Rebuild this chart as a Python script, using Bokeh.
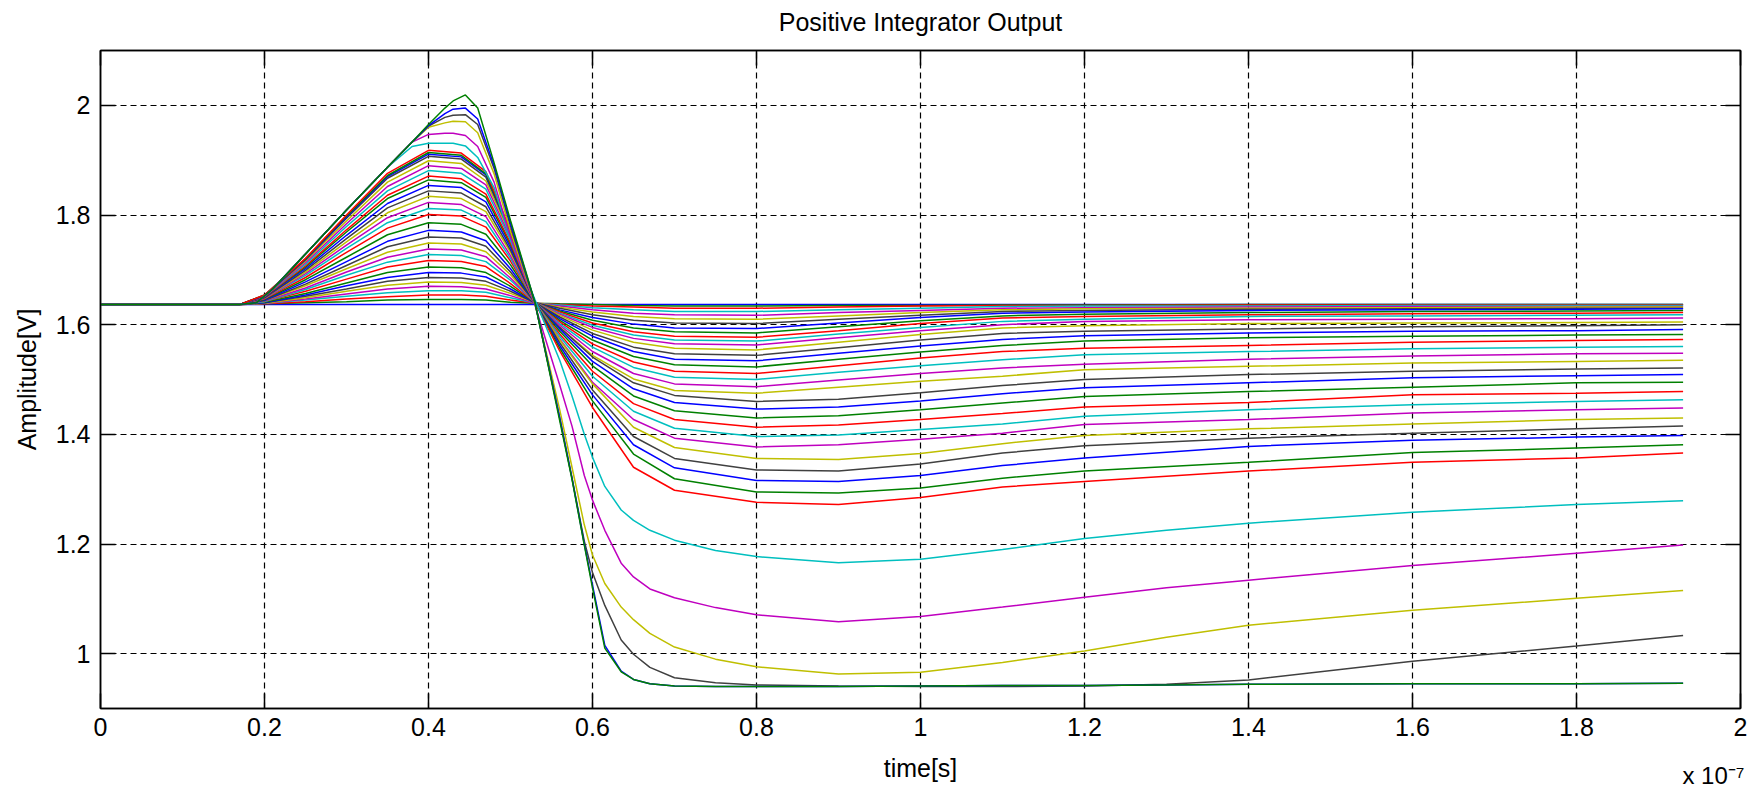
from bokeh.plotting import figure
from bokeh.models import Range1d, FixedTicker, CustomJSTickFormatter, LinearAxis, Title
from bokeh.embed import file_html
from bokeh.resources import INLINE

# time axis in units of 1e-7 s
t_main = [0.00, 0.17, 0.20, 0.25, 0.30, 0.35, 0.40, 0.44, 0.47, 0.50, 0.53, 0.56,
          0.60, 0.65, 0.70, 0.80, 0.90, 1.00, 1.10, 1.20, 1.40, 1.60, 1.80, 1.93]
t_steep = [0.00, 0.17, 0.19, 0.21, 0.25, 0.30, 0.35, 0.38, 0.40, 0.42, 0.43, 0.445,
           0.46, 0.48, 0.50, 0.53, 0.56, 0.575, 0.59, 0.60, 0.615, 0.635, 0.65, 0.67,
           0.70, 0.75, 0.80, 0.90, 1.00, 1.10, 1.20, 1.30, 1.40, 1.60, 1.80, 1.93]

v00 = [1.637] * 24
v01 = [1.637, 1.637, 1.638, 1.640, 1.642, 1.645, 1.646, 1.646, 1.645, 1.641, 1.639, 1.638, 1.637, 1.635, 1.634, 1.634, 1.635, 1.635, 1.636, 1.636, 1.637, 1.637, 1.637, 1.637]
v02 = [1.637, 1.637, 1.638, 1.642, 1.647, 1.651, 1.654, 1.654, 1.652, 1.645, 1.639, 1.637, 1.634, 1.632, 1.630, 1.630, 1.632, 1.634, 1.635, 1.635, 1.636, 1.636, 1.636, 1.636]
v03 = [1.637, 1.637, 1.639, 1.645, 1.652, 1.658, 1.662, 1.662, 1.659, 1.649, 1.639, 1.636, 1.631, 1.627, 1.624, 1.624, 1.627, 1.630, 1.633, 1.634, 1.634, 1.635, 1.635, 1.635]
v04 = [1.637, 1.637, 1.639, 1.647, 1.656, 1.665, 1.670, 1.669, 1.665, 1.653, 1.639, 1.634, 1.627, 1.621, 1.618, 1.617, 1.622, 1.626, 1.630, 1.631, 1.632, 1.633, 1.633, 1.633]
v05 = [1.637, 1.637, 1.639, 1.649, 1.661, 1.672, 1.678, 1.677, 1.672, 1.657, 1.640, 1.632, 1.623, 1.615, 1.611, 1.610, 1.616, 1.622, 1.627, 1.629, 1.630, 1.631, 1.632, 1.632]
v06 = [1.637, 1.637, 1.640, 1.652, 1.665, 1.679, 1.686, 1.685, 1.679, 1.661, 1.640, 1.630, 1.618, 1.608, 1.603, 1.602, 1.610, 1.617, 1.624, 1.626, 1.628, 1.629, 1.630, 1.630]
v07 = [1.637, 1.637, 1.640, 1.654, 1.671, 1.686, 1.695, 1.694, 1.687, 1.665, 1.640, 1.627, 1.613, 1.601, 1.594, 1.593, 1.603, 1.613, 1.621, 1.623, 1.626, 1.627, 1.628, 1.629]
v08 = [1.637, 1.637, 1.641, 1.657, 1.676, 1.695, 1.705, 1.704, 1.695, 1.670, 1.640, 1.625, 1.608, 1.594, 1.587, 1.585, 1.596, 1.607, 1.616, 1.619, 1.622, 1.624, 1.625, 1.626]
v09 = [1.637, 1.637, 1.642, 1.661, 1.683, 1.705, 1.717, 1.715, 1.706, 1.675, 1.640, 1.623, 1.603, 1.587, 1.579, 1.577, 1.589, 1.602, 1.612, 1.615, 1.618, 1.620, 1.621, 1.622]
v10 = [1.637, 1.637, 1.642, 1.664, 1.690, 1.714, 1.728, 1.726, 1.715, 1.681, 1.640, 1.621, 1.599, 1.581, 1.572, 1.570, 1.583, 1.595, 1.606, 1.610, 1.615, 1.616, 1.617, 1.618]
v11 = [1.637, 1.637, 1.643, 1.667, 1.696, 1.723, 1.738, 1.736, 1.724, 1.685, 1.640, 1.619, 1.595, 1.575, 1.565, 1.563, 1.576, 1.589, 1.600, 1.606, 1.609, 1.610, 1.611, 1.612]
v12 = [1.637, 1.637, 1.644, 1.671, 1.702, 1.732, 1.749, 1.747, 1.733, 1.691, 1.640, 1.617, 1.590, 1.568, 1.557, 1.554, 1.568, 1.582, 1.594, 1.598, 1.602, 1.603, 1.604, 1.605]
v13 = [1.637, 1.637, 1.644, 1.674, 1.708, 1.742, 1.760, 1.758, 1.743, 1.696, 1.640, 1.614, 1.584, 1.559, 1.547, 1.544, 1.558, 1.572, 1.584, 1.588, 1.592, 1.596, 1.598, 1.600]
v14 = [1.637, 1.637, 1.645, 1.678, 1.715, 1.752, 1.772, 1.769, 1.753, 1.702, 1.640, 1.611, 1.579, 1.551, 1.537, 1.534, 1.548, 1.561, 1.573, 1.580, 1.585, 1.588, 1.589, 1.591]
v15 = [1.637, 1.637, 1.646, 1.682, 1.723, 1.764, 1.786, 1.783, 1.765, 1.709, 1.640, 1.608, 1.572, 1.542, 1.527, 1.523, 1.537, 1.550, 1.562, 1.570, 1.576, 1.579, 1.581, 1.582]
v16 = [1.637, 1.637, 1.647, 1.686, 1.732, 1.776, 1.801, 1.798, 1.778, 1.716, 1.640, 1.605, 1.565, 1.532, 1.515, 1.511, 1.525, 1.539, 1.551, 1.557, 1.562, 1.568, 1.571, 1.573]
v17 = [1.637, 1.637, 1.648, 1.690, 1.739, 1.786, 1.812, 1.809, 1.788, 1.721, 1.640, 1.602, 1.559, 1.522, 1.504, 1.500, 1.513, 1.525, 1.536, 1.545, 1.551, 1.556, 1.559, 1.560]
v18 = [1.637, 1.637, 1.648, 1.693, 1.745, 1.795, 1.823, 1.819, 1.797, 1.726, 1.640, 1.599, 1.551, 1.511, 1.492, 1.487, 1.499, 1.511, 1.521, 1.528, 1.537, 1.543, 1.547, 1.548]
v19 = [1.637, 1.637, 1.649, 1.696, 1.751, 1.804, 1.834, 1.830, 1.806, 1.732, 1.640, 1.595, 1.544, 1.501, 1.480, 1.475, 1.486, 1.497, 1.506, 1.518, 1.524, 1.530, 1.533, 1.535]
v20 = [1.637, 1.637, 1.649, 1.699, 1.757, 1.813, 1.844, 1.840, 1.815, 1.736, 1.640, 1.595, 1.541, 1.494, 1.471, 1.460, 1.464, 1.476, 1.489, 1.500, 1.509, 1.515, 1.519, 1.521]
v21 = [1.637, 1.637, 1.650, 1.702, 1.763, 1.821, 1.854, 1.850, 1.824, 1.741, 1.640, 1.592, 1.533, 1.483, 1.458, 1.446, 1.450, 1.461, 1.474, 1.485, 1.494, 1.503, 1.507, 1.509]
v22 = [1.637, 1.637, 1.651, 1.705, 1.769, 1.830, 1.864, 1.859, 1.832, 1.746, 1.640, 1.588, 1.525, 1.470, 1.443, 1.430, 1.434, 1.445, 1.457, 1.469, 1.478, 1.486, 1.494, 1.495]
v23 = [1.637, 1.637, 1.651, 1.707, 1.773, 1.836, 1.871, 1.866, 1.838, 1.749, 1.640, 1.583, 1.515, 1.456, 1.427, 1.413, 1.417, 1.427, 1.438, 1.450, 1.458, 1.472, 1.475, 1.478]
v24 = [1.637, 1.637, 1.652, 1.710, 1.779, 1.844, 1.881, 1.876, 1.847, 1.754, 1.640, 1.579, 1.506, 1.442, 1.411, 1.396, 1.399, 1.409, 1.419, 1.433, 1.445, 1.454, 1.460, 1.463]
v25 = [1.637, 1.637, 1.652, 1.713, 1.784, 1.852, 1.890, 1.885, 1.855, 1.758, 1.640, 1.574, 1.495, 1.427, 1.393, 1.377, 1.381, 1.391, 1.402, 1.418, 1.427, 1.439, 1.445, 1.448]
v26 = [1.637, 1.637, 1.653, 1.716, 1.789, 1.860, 1.899, 1.894, 1.862, 1.763, 1.640, 1.572, 1.492, 1.413, 1.376, 1.356, 1.354, 1.365, 1.383, 1.398, 1.410, 1.419, 1.427, 1.430]
v27 = [1.637, 1.637, 1.653, 1.718, 1.794, 1.867, 1.907, 1.902, 1.869, 1.767, 1.640, 1.567, 1.481, 1.396, 1.356, 1.335, 1.333, 1.346, 1.366, 1.379, 1.393, 1.402, 1.410, 1.415]
v28 = [1.637, 1.637, 1.653, 1.719, 1.796, 1.870, 1.911, 1.906, 1.873, 1.769, 1.640, 1.562, 1.472, 1.381, 1.339, 1.316, 1.314, 1.325, 1.343, 1.357, 1.378, 1.389, 1.395, 1.398]
v29 = [1.637, 1.637, 1.654, 1.720, 1.798, 1.872, 1.914, 1.909, 1.875, 1.770, 1.640, 1.557, 1.461, 1.364, 1.319, 1.295, 1.293, 1.302, 1.320, 1.333, 1.349, 1.367, 1.375, 1.381]
v30 = [1.637, 1.637, 1.654, 1.721, 1.800, 1.876, 1.918, 1.913, 1.879, 1.772, 1.640, 1.552, 1.449, 1.340, 1.298, 1.276, 1.272, 1.285, 1.304, 1.314, 1.333, 1.349, 1.357, 1.366]
v31 = [1.637, 1.637, 1.640, 1.665, 1.729, 1.809, 1.887, 1.925, 1.931, 1.931, 1.931, 1.926, 1.905, 1.850, 1.755, 1.645, 1.535, 1.470, 1.400, 1.358, 1.305, 1.262, 1.243, 1.225, 1.207, 1.188, 1.177, 1.166, 1.172, 1.190, 1.210, 1.225, 1.238, 1.258, 1.272, 1.279]
v32 = [1.637, 1.637, 1.640, 1.665, 1.729, 1.809, 1.887, 1.933, 1.947, 1.949, 1.949, 1.945, 1.925, 1.860, 1.760, 1.635, 1.490, 1.415, 1.325, 1.280, 1.225, 1.165, 1.140, 1.118, 1.102, 1.084, 1.071, 1.058, 1.068, 1.085, 1.103, 1.120, 1.134, 1.161, 1.183, 1.198]
v33 = [1.637, 1.637, 1.640, 1.665, 1.729, 1.809, 1.887, 1.933, 1.960, 1.968, 1.971, 1.970, 1.950, 1.875, 1.770, 1.637, 1.445, 1.340, 1.235, 1.180, 1.128, 1.085, 1.062, 1.037, 1.012, 0.990, 0.976, 0.963, 0.966, 0.984, 1.005, 1.030, 1.052, 1.079, 1.101, 1.115]
v34 = [1.637, 1.637, 1.640, 1.665, 1.729, 1.809, 1.887, 1.933, 1.962, 1.978, 1.982, 1.983, 1.965, 1.885, 1.780, 1.638, 1.430, 1.320, 1.205, 1.148, 1.088, 1.025, 0.999, 0.975, 0.956, 0.947, 0.943, 0.941, 0.940, 0.940, 0.941, 0.944, 0.952, 0.986, 1.014, 1.033]
v35 = [1.637, 1.637, 1.640, 1.665, 1.729, 1.809, 1.887, 1.933, 1.963, 1.985, 1.993, 1.995, 1.975, 1.890, 1.785, 1.640, 1.430, 1.320, 1.200, 1.125, 1.015, 0.968, 0.953, 0.945, 0.941, 0.940, 0.940, 0.940, 0.941, 0.942, 0.942, 0.943, 0.944, 0.945, 0.945, 0.946]
v36 = [1.637, 1.637, 1.640, 1.665, 1.729, 1.809, 1.887, 1.933, 1.965, 1.995, 2.008, 2.019, 1.995, 1.895, 1.790, 1.640, 1.425, 1.318, 1.198, 1.120, 1.010, 0.967, 0.953, 0.945, 0.941, 0.940, 0.940, 0.940, 0.941, 0.942, 0.942, 0.943, 0.944, 0.945, 0.945, 0.946]

main_traces = [v00, v01, v02, v03, v04, v05, v06, v07, v08, v09, v10, v11, v12, v13, v14, v15,
               v16, v17, v18, v19, v20, v21, v22, v23, v24, v25, v26, v27, v28, v29, v30]
steep_traces = [v31, v32, v33, v34, v35, v36]

x_ticks = [0, 0.2, 0.4, 0.6, 0.8, 1, 1.2, 1.4, 1.6, 1.8, 2]
y_ticks = [1, 1.2, 1.4, 1.6, 1.8, 2]

title_text = "Positive Integrator Output"
x_label = "time[s]"
y_label = "Amplitude[V]"
x_exponent = "x 10\u207b\u2077"

# MATLAB classic colour order: b g r c m y k
palette = ["#0000FF", "#008000", "#FF0000", "#00BFBF", "#BF00BF", "#BFBF00", "#404040"]

FONT = "Liberation Sans"
FS = "25px"

p = figure(width=1756, height=795, x_range=Range1d(0, 2), y_range=Range1d(0.9, 2.1),
           output_backend="svg", toolbar_location=None,
           min_border_left=100, min_border_right=16, min_border_top=50, min_border_bottom=87,
           background_fill_color="white", border_fill_color="white")

p.outline_line_color = "black"
p.outline_line_width = 1.5

fmt_code = "return String(Math.round(tick*10)/10)"
p.xaxis.ticker = FixedTicker(ticks=x_ticks)
p.yaxis.ticker = FixedTicker(ticks=y_ticks)
p.xaxis.formatter = CustomJSTickFormatter(code=fmt_code)
p.yaxis.formatter = CustomJSTickFormatter(code=fmt_code)
for ax in [p.xaxis[0], p.yaxis[0]]:
    ax.major_tick_in = 15
    ax.major_tick_out = 0
    ax.minor_tick_line_color = None
    ax.axis_line_color = "black"
    ax.axis_line_width = 1.5
    ax.major_tick_line_color = "black"
    ax.major_tick_line_width = 1.5
    ax.major_label_text_font = FONT
    ax.major_label_text_font_size = FS
    ax.major_label_text_color = "black"
    ax.axis_label_text_font = FONT
    ax.axis_label_text_font_size = FS
    ax.axis_label_text_font_style = "normal"
    ax.axis_label_text_color = "black"
p.xaxis.major_label_standoff = 9
p.yaxis.major_label_standoff = 10
p.xaxis.axis_label = x_label
p.xaxis.axis_label_standoff = 15
p.yaxis.axis_label = y_label
p.yaxis.axis_label_standoff = 12

right_axis = LinearAxis(ticker=FixedTicker(ticks=y_ticks),
                        formatter=CustomJSTickFormatter(code="return ''"),
                        major_tick_in=15, major_tick_out=0, minor_tick_line_color=None,
                        axis_line_color="black", axis_line_width=1.5,
                        major_tick_line_color="black", major_tick_line_width=1.5,
                        major_label_standoff=0, major_label_text_font_size="1px")
p.add_layout(right_axis, "right")

# top axis carries the ticks of the box and the chart title as its label
top_axis = LinearAxis(ticker=FixedTicker(ticks=x_ticks),
                      formatter=CustomJSTickFormatter(code="return ''"),
                      major_tick_in=15, major_tick_out=0, minor_tick_line_color=None,
                      axis_line_color="black", axis_line_width=1.5,
                      major_tick_line_color="black", major_tick_line_width=1.5,
                      major_label_standoff=0, major_label_text_font_size="1px",
                      axis_label=title_text, axis_label_standoff=15,
                      axis_label_text_font=FONT, axis_label_text_font_size=FS,
                      axis_label_text_font_style="normal", axis_label_text_color="black")
p.add_layout(top_axis, "above")

p.add_layout(Title(text=x_exponent, align="right", offset=-4, vertical_align="top",
                   text_font=FONT, text_font_size="24px", text_font_style="normal",
                   text_color="black", standoff=-46), "below")

p.xgrid.ticker = FixedTicker(ticks=x_ticks)
p.ygrid.ticker = FixedTicker(ticks=y_ticks)
for g in [p.xgrid[0], p.ygrid[0]]:
    g.grid_line_color = "black"
    g.grid_line_dash = "6 4"
    g.grid_line_width = 1.2
    g.grid_line_alpha = 1.0

for k, vals in enumerate(main_traces):
    p.line(t_main, vals, line_color=palette[k % 7], line_width=1.5)
for j, vals in enumerate(steep_traces):
    k = len(main_traces) + j
    p.line(t_steep, vals, line_color=palette[k % 7], line_width=1.5)

open("out.html", "w").write(file_html(p, INLINE))
